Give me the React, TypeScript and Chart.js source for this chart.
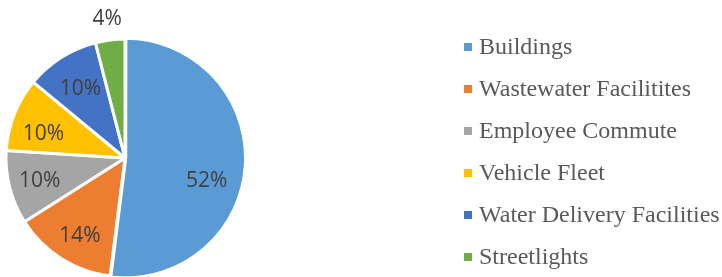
import React, { useEffect, useRef } from "react";
import { Chart, registerables } from "chart.js";

Chart.register(...registerables);

// ---- data ----
const categories = [
  "Buildings",
  "Wastewater Facilitites",
  "Employee Commute",
  "Vehicle Fleet",
  "Water Delivery Facilities",
  "Streetlights",
];
const shares = [52, 14, 10, 10, 10, 4];
const valueLabels = ["52%", "14%", "10%", "10%", "10%", "4%"];
const sliceColors = ["#5B9BD5", "#ED7D31", "#A5A5A5", "#FFC000", "#4472C4", "#70AD47"];

// ---- style / layout (not data) ----
const LABEL_RADIUS = [0.71, 0.75, 0.74, 0.72, 0.7, 1.19];
const LABEL_ANGLE_SHIFT = [11, -2, 0, -4, 0, 0];
const SLICE_OFFSET = [3, 0, 0, 0, 0, 0];
const LABEL_FONT_PX = 21;
const LEGEND_BOX_X = 464;
const LEGEND_TEXT_X = 479;
const LEGEND_FIRST_BASELINE = 54;
const LEGEND_STEP = 42;

const sliceLabelPlugin = {
  id: "sliceLabels",
  afterDatasetsDraw(chart: any) {
    const meta = chart.getDatasetMeta(0);
    const ctx = chart.ctx as CanvasRenderingContext2D;
    ctx.save();
    ctx.font = `${LABEL_FONT_PX}px 'Open Sans'`;
    ctx.fillStyle = "#404040";
    ctx.textAlign = "center";
    ctx.textBaseline = "alphabetic";
    const capHalf = (LABEL_FONT_PX * 0.714) / 2;
    meta.data.forEach((arc: any, i: number) => {
      const p = arc.getProps(["x", "y", "startAngle", "endAngle", "outerRadius"], true);
      const mid = (p.startAngle + p.endAngle) / 2 + (LABEL_ANGLE_SHIFT[i] * Math.PI) / 180;
      const r = p.outerRadius * LABEL_RADIUS[i];
      ctx.fillText(valueLabels[i], p.x + Math.cos(mid) * r, p.y + Math.sin(mid) * r + capHalf);
    });
    ctx.restore();
  },
};

const legendPlugin = {
  id: "sideLegend",
  afterDraw(chart: any) {
    const ctx = chart.ctx as CanvasRenderingContext2D;
    const labels: string[] = chart.data.labels;
    const colors: string[] = chart.data.datasets[0].backgroundColor;
    ctx.save();
    ctx.font = "24px 'Liberation Serif'";
    ctx.textAlign = "left";
    ctx.textBaseline = "alphabetic";
    labels.forEach((lab, i) => {
      const base = LEGEND_FIRST_BASELINE + LEGEND_STEP * i;
      ctx.fillStyle = colors[i];
      ctx.fillRect(LEGEND_BOX_X, base - 11, 8, 8);
      ctx.fillStyle = "#595959";
      ctx.fillText(lab, LEGEND_TEXT_X, base);
    });
    ctx.restore();
  },
};

export default function App() {
  const ref = useRef<HTMLCanvasElement | null>(null);
  useEffect(() => {
    if (!ref.current) return;
    const chart = new Chart(ref.current, {
      type: "pie",
      data: {
        labels: categories,
        datasets: [
          {
            data: shares,
            backgroundColor: sliceColors,
            borderColor: "#FFFFFF",
            borderWidth: 3,
            offset: SLICE_OFFSET,
          },
        ],
      },
      options: {
        responsive: false,
        animation: false,
        devicePixelRatio: 1,
        radius: 119,
        layout: { padding: { left: 0, right: 472, top: 39, bottom: 0 } },
        plugins: {
          legend: { display: false },
          tooltip: { enabled: false },
        },
        events: [],
      },
      plugins: [sliceLabelPlugin, legendPlugin],
    });
    return () => chart.destroy();
  }, []);
  return (
    <div style={{ position: "fixed", left: 0, top: 0, width: 722, height: 277, background: "#fff" }}>
      <canvas ref={ref} width={722} height={277} style={{ width: 722, height: 277, display: "block" }} />
    </div>
  );
}
